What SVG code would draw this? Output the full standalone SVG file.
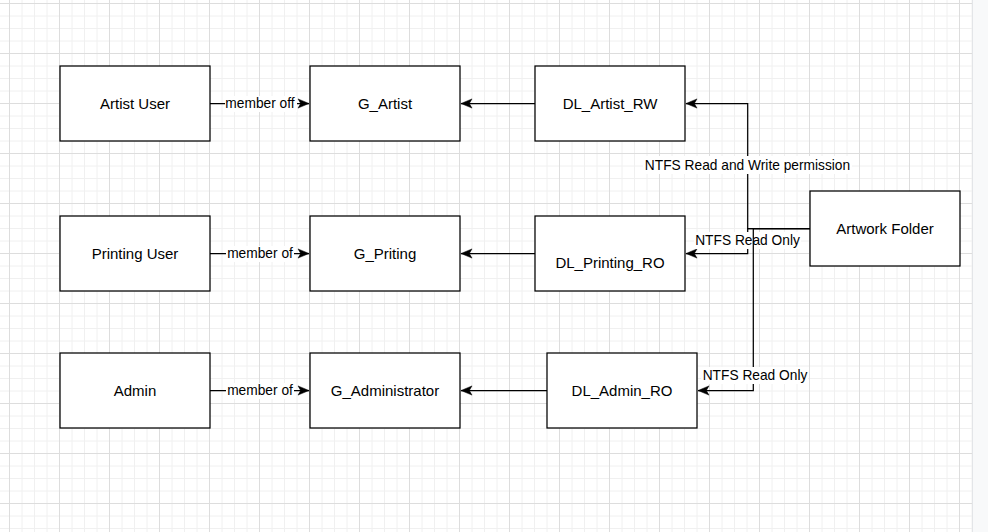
<svg xmlns="http://www.w3.org/2000/svg" width="988" height="532" viewBox="0 0 988 532">
  <style>
    .box { fill: #ffffff; stroke: #000000; stroke-width: 1.25; }
    .lbl { font-family: "Liberation Sans", Arial, sans-serif; font-size: 15px; fill: #000000; text-anchor: middle; }
    .elbl { font-family: "Liberation Sans", Arial, sans-serif; font-size: 13.75px; fill: #000000; text-anchor: middle; }
    .edge { fill: none; stroke: #000000; stroke-width: 1.25; }
    .lblbg { fill: #ffffff; stroke: none; }
  </style>
  <defs>
    <pattern id="grid" patternUnits="userSpaceOnUse" x="9" y="3" width="50" height="50">
      <path d="M13,0 V50 M25.5,0 V50 M38,0 V50 M0,13 H50 M0,25.5 H50 M0,38 H50" stroke="#f0f0f0" stroke-width="1" fill="none"/>
      <path d="M0.5,0 V50 M0,0.5 H50" stroke="#dddddd" stroke-width="1" fill="none"/>
    </pattern>
    <marker id="arrow" markerUnits="userSpaceOnUse" viewBox="-12 -6 13 12" refX="0" refY="0" markerWidth="13" markerHeight="12" orient="auto">
      <path d="M0,0 L-11,-4.6 L-8.3,0 L-11,4.6 Z" fill="#000000" stroke="#000000" stroke-width="0.5"/>
    </marker>
  </defs>

  <rect x="0" y="0" width="988" height="532" fill="#ffffff"/>
  <rect x="0" y="0" width="972" height="532" fill="url(#grid)"/>
  <rect x="972" y="0" width="16" height="532" fill="#f8f9fa"/>
  <line x1="972.5" y1="0" x2="972.5" y2="532" stroke="#e3e5e8" stroke-width="1"/>

  <g id="connectors">
    <path class="edge" d="M210,103.5 H309" marker-end="url(#arrow)"/>
    <path class="edge" d="M535,103.5 H461" marker-end="url(#arrow)"/>
    <path class="edge" d="M210,253.5 H309" marker-end="url(#arrow)"/>
    <path class="edge" d="M535,253.5 H461" marker-end="url(#arrow)"/>
    <path class="edge" d="M210,390.5 H309" marker-end="url(#arrow)"/>
    <path class="edge" d="M547,390.5 H461" marker-end="url(#arrow)"/>

    <rect class="lblbg" x="225" y="96" width="72" height="16"/>
    <text class="elbl" x="260" y="108">member off</text>
    <rect class="lblbg" x="226" y="246" width="68" height="16"/>
    <text class="elbl" x="260" y="258">member of</text>
    <rect class="lblbg" x="226" y="383" width="68" height="16"/>
    <text class="elbl" x="260" y="395">member of</text>

    <path class="edge" d="M810,228.5 H747.7 V103.5 H686" marker-end="url(#arrow)"/>
    <path class="edge" d="M810,228.5 H747.7 V253.5 H686" marker-end="url(#arrow)"/>
    <rect class="lblbg" x="643" y="156" width="209" height="18"/>
    <text class="elbl" x="747.5" y="170">NTFS Read and Write permission</text>
    <rect class="lblbg" x="694" y="232" width="107" height="17"/>
    <text class="elbl" x="747.5" y="245">NTFS Read Only</text>
    <path class="edge" d="M810,228.5 H753.3 V390.5 H698" marker-end="url(#arrow)"/>
    <rect class="lblbg" x="701" y="367" width="107" height="17"/>
    <text class="elbl" x="755" y="380">NTFS Read Only</text>
  </g>

  <g id="artist-user">
    <rect class="box" x="60" y="66" width="150" height="75"/>
    <text class="lbl" x="135" y="109">Artist User</text>
  </g>
  <g id="g-artist">
    <rect class="box" x="310" y="66" width="150" height="75"/>
    <text class="lbl" x="385" y="109">G_Artist</text>
  </g>
  <g id="dl-artist-rw">
    <rect class="box" x="535" y="66" width="150" height="75"/>
    <text class="lbl" x="610" y="109">DL_Artist_RW</text>
  </g>
  <g id="printing-user">
    <rect class="box" x="60" y="216" width="150" height="75"/>
    <text class="lbl" x="135" y="259">Printing User</text>
  </g>
  <g id="g-priting">
    <rect class="box" x="310" y="216" width="150" height="75"/>
    <text class="lbl" x="385" y="259">G_Priting</text>
  </g>
  <g id="dl-printing-ro">
    <rect class="box" x="535" y="216" width="150" height="75"/>
    <text class="lbl" x="610" y="268">DL_Printing_RO</text>
  </g>
  <g id="admin">
    <rect class="box" x="60" y="353" width="150" height="75"/>
    <text class="lbl" x="135" y="396">Admin</text>
  </g>
  <g id="g-administrator">
    <rect class="box" x="310" y="353" width="150" height="75"/>
    <text class="lbl" x="385" y="396">G_Administrator</text>
  </g>
  <g id="dl-admin-ro">
    <rect class="box" x="547" y="353" width="150" height="75"/>
    <text class="lbl" x="622" y="396">DL_Admin_RO</text>
  </g>
  <g id="artwork-folder">
    <rect class="box" x="810" y="191" width="150" height="75"/>
    <text class="lbl" x="885" y="234">Artwork Folder</text>
  </g>
</svg>
